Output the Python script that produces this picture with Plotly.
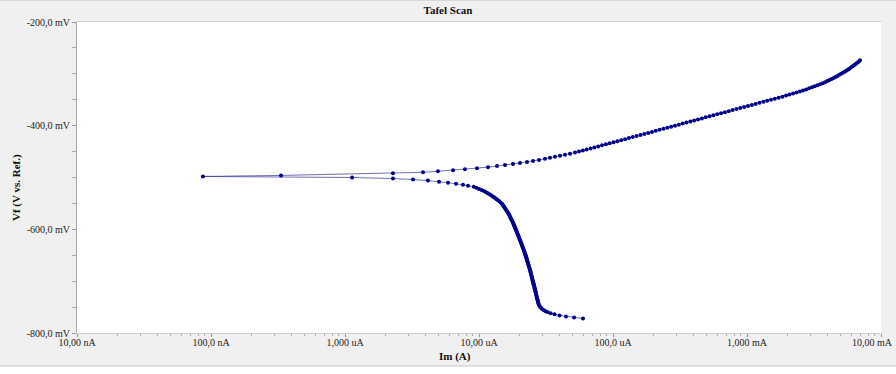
import plotly.graph_objects as go

# ---------------- data ----------------
# cathodic branch, scanned from -772 mV up towards Ecorr
cathodic_potential_mV = [
    -772, -770, -768, -766, -764, -762, -760, -758, -756, -754,
    -752, -750, -748, -746, -744, -742, -740, -738, -736, -734,
    -732, -730, -728, -726, -724, -722, -720, -718, -716, -714,
    -712, -710, -708, -706, -704, -702, -700, -698, -696, -694,
    -692, -690, -688, -686, -684, -682, -680, -678, -676, -674,
    -672, -670, -668, -666, -664, -662, -660, -658, -656, -654,
    -652, -650, -648, -646, -644, -642, -640, -638, -636, -634,
    -632, -630, -628, -626, -624, -622, -620, -618, -616, -614,
    -612, -610, -608, -606, -604, -602, -600, -598, -596, -594,
    -592, -590, -588, -586, -584, -582, -580, -578, -576, -574,
    -572, -570, -568, -566, -564, -562, -560, -558, -556, -554,
    -552, -550, -548, -546, -544, -542, -540, -538, -536, -534,
    -532, -530, -528, -526, -524, -522, -520, -518, -516, -514,
    -512, -510, -508, -506, -504, -502,
]
cathodic_current_A = [
    5.97e-5, 5.12e-5, 4.46e-5, 3.99e-5, 3.66e-5, 3.42e-5, 3.26e-5, 3.14e-5, 3.05e-5, 2.97e-5,
    2.91e-5, 2.86e-5, 2.83e-5, 2.80e-5, 2.785e-5, 2.77e-5, 2.756e-5, 2.747e-5, 2.731e-5, 2.719e-5,
    2.707e-5, 2.696e-5, 2.684e-5, 2.673e-5, 2.661e-5, 2.650e-5, 2.638e-5, 2.627e-5, 2.616e-5, 2.604e-5,
    2.594e-5, 2.582e-5, 2.570e-5, 2.559e-5, 2.547e-5, 2.535e-5, 2.524e-5, 2.512e-5, 2.501e-5, 2.489e-5,
    2.478e-5, 2.467e-5, 2.455e-5, 2.444e-5, 2.433e-5, 2.422e-5, 2.411e-5, 2.399e-5, 2.387e-5, 2.374e-5,
    2.361e-5, 2.348e-5, 2.336e-5, 2.323e-5, 2.311e-5, 2.299e-5, 2.287e-5, 2.275e-5, 2.262e-5, 2.250e-5,
    2.239e-5, 2.227e-5, 2.215e-5, 2.203e-5, 2.188e-5, 2.174e-5, 2.159e-5, 2.145e-5, 2.130e-5, 2.116e-5,
    2.102e-5, 2.088e-5, 2.074e-5, 2.061e-5, 2.046e-5, 2.033e-5, 2.019e-5, 2.004e-5, 1.991e-5, 1.976e-5,
    1.962e-5, 1.948e-5, 1.934e-5, 1.920e-5, 1.907e-5, 1.893e-5, 1.880e-5, 1.866e-5, 1.853e-5, 1.840e-5,
    1.827e-5, 1.814e-5, 1.801e-5, 1.785e-5, 1.769e-5, 1.753e-5, 1.738e-5, 1.722e-5, 1.707e-5, 1.692e-5,
    1.677e-5, 1.663e-5, 1.645e-5, 1.626e-5, 1.607e-5, 1.588e-5, 1.569e-5, 1.551e-5, 1.532e-5, 1.515e-5,
    1.497e-5, 1.480e-5, 1.449e-5, 1.417e-5, 1.385e-5, 1.354e-5, 1.324e-5, 1.294e-5, 1.261e-5, 1.224e-5,
    1.189e-5, 1.154e-5, 1.120e-5, 1.087e-5, 1.045e-5, 9.99e-6, 9.56e-6, 9.14e-6, 8.28e-6, 7.60e-6,
    6.74e-6, 5.87e-6, 5.03e-6, 4.16e-6, 3.22e-6, 2.28e-6,
]

# points around the corrosion potential
ecorr_potential_mV = [-500, -498, -496]
ecorr_current_A = [1.13e-6, 8.71e-8, 3.33e-7]

# anodic branch
anodic_potential_mV = [
    -492, -490, -488, -486, -484, -482, -480, -478, -476, -474,
    -472, -470, -468, -466, -464, -462, -460, -458, -456, -454,
    -452, -450, -448, -446, -444, -442, -440, -438, -436, -434,
    -432, -430, -428, -426, -424, -422, -420, -418, -416, -414,
    -412, -410, -408, -406, -404, -402, -400, -398, -396, -394,
    -392, -390, -388, -386, -384, -382, -380, -378, -376, -374,
    -372, -370, -368, -366, -364, -362, -360, -358, -356, -354,
    -352, -350, -348, -346, -344, -342, -340, -338, -336, -334,
    -332, -330, -328, -326, -324, -322, -320, -318, -316, -314,
    -312, -310, -308, -306, -304, -302, -300, -298, -296, -294,
    -292, -290, -288, -286, -284, -282, -280, -278, -276, -274,
]
anodic_current_A = [
    2.28e-6, 3.82e-6, 4.94e-6, 6.40e-6, 7.86e-6, 9.66e-6, 1.167e-5, 1.362e-5, 1.563e-5, 1.794e-5,
    2.023e-5, 2.282e-5, 2.529e-5, 2.804e-5, 3.108e-5, 3.388e-5, 3.692e-5, 4.023e-5, 4.384e-5, 4.778e-5,
    5.206e-5, 5.576e-5, 5.957e-5, 6.36e-5, 6.80e-5, 7.26e-5, 7.76e-5, 8.28e-5, 8.85e-5, 9.45e-5,
    1.010e-4, 1.079e-4, 1.152e-4, 1.231e-4, 1.315e-4, 1.405e-4, 1.500e-4, 1.602e-4, 1.712e-4, 1.829e-4,
    1.953e-4, 2.086e-4, 2.229e-4, 2.381e-4, 2.543e-4, 2.717e-4, 2.902e-4, 3.100e-4, 3.311e-4, 3.537e-4,
    3.779e-4, 4.036e-4, 4.311e-4, 4.606e-4, 4.920e-4, 5.255e-4, 5.614e-4, 5.997e-4, 6.406e-4, 6.843e-4,
    7.310e-4, 7.809e-4, 8.341e-4, 8.910e-4, 9.517e-4, 1.017e-3, 1.086e-3, 1.160e-3, 1.239e-3, 1.324e-3,
    1.414e-3, 1.511e-3, 1.614e-3, 1.724e-3, 1.841e-3, 1.958e-3, 2.079e-3, 2.208e-3, 2.341e-3, 2.477e-3,
    2.617e-3, 2.761e-3, 2.907e-3, 3.056e-3, 3.206e-3, 3.358e-3, 3.511e-3, 3.666e-3, 3.820e-3, 3.975e-3,
    4.128e-3, 4.279e-3, 4.429e-3, 4.579e-3, 4.732e-3, 4.884e-3, 5.037e-3, 5.191e-3, 5.346e-3, 5.500e-3,
    5.652e-3, 5.805e-3, 5.957e-3, 6.107e-3, 6.256e-3, 6.402e-3, 6.546e-3, 6.690e-3, 6.829e-3, 6.965e-3,
]

y_tick_values = [-800, -600, -400, -200]
y_tick_labels = ["-800,0 mV", "-600,0 mV", "-400,0 mV", "-200,0 mV"]
y_minor_values = [-750, -700, -650, -550, -500, -450, -350, -300, -250]

x_tick_values = [1e-8, 1e-7, 1e-6, 1e-5, 1e-4, 1e-3, 1e-2]
x_tick_labels = ["10,00 nA", "100,0 nA", "1,000 uA", "10,00 uA", "100,0 uA", "1,000 mA", "10,00 mA"]
x_minor_values = [m * d for d in [1e-8, 1e-7, 1e-6, 1e-5, 1e-4, 1e-3] for m in range(2, 10)]

# ---------------- figure ----------------
potential = cathodic_potential_mV + ecorr_potential_mV + anodic_potential_mV
current = cathodic_current_A + ecorr_current_A + anodic_current_A

SERIF = "Liberation Serif, Times New Roman, serif"
TICK_FONT = dict(family=SERIF, size=10, color="#222222")

# the last x label sits against the right edge of the window in the reference,
# so it is drawn as an annotation anchored on its right side
axis_tick_text = x_tick_labels[:-1] + [""]

fig = go.Figure()
fig.add_trace(go.Scatter(
    x=current, y=potential, mode="lines+markers",
    line=dict(color="rgba(50,50,150,0.7)", width=1),
    marker=dict(color="#00008b", size=4),
    showlegend=False, hoverinfo="skip",
))

fig.update_layout(
    width=896, height=374,
    margin=dict(l=77, r=15, t=22, b=41),
    paper_bgcolor="#f0f0f0", plot_bgcolor="white",
    font=TICK_FONT,
    title=dict(text="<b>Tafel Scan</b>", x=0.5, xanchor="center",
               y=1 - 10 / 374, yanchor="middle",
               font=dict(family=SERIF, size=11, color="#111111")),
    xaxis=dict(
        type="log", range=[-8, -2], automargin=False,
        tickvals=x_tick_values, ticktext=axis_tick_text,
        ticks="outside", ticklen=3, tickcolor="#999999",
        ticklabelstandoff=-3,
        minor=dict(tickvals=x_minor_values, ticks="outside", ticklen=2, tickcolor="#aaaaaa"),
        showgrid=False, zeroline=False,
        showline=True, linecolor="#d0d0d0", linewidth=1, mirror=True,
        tickfont=TICK_FONT,
    ),
    yaxis=dict(
        range=[-800, -200], automargin=False,
        tickvals=y_tick_values, ticktext=y_tick_labels,
        ticks="outside", ticklen=4, tickcolor="#999999",
        minor=dict(tickvals=y_minor_values, ticks="outside", ticklen=4, tickcolor="#aaaaaa"),
        showgrid=False, zeroline=False,
        showline=True, linecolor="#a8a8a8", linewidth=1,
        tickfont=TICK_FONT,
    ),
    annotations=[
        dict(text=x_tick_labels[-1], xref="paper", yref="paper",
             x=(895 - 77) / 804, y=(333 - 343) / 311, showarrow=False,
             xanchor="right", yanchor="middle", font=TICK_FONT),
        dict(text="<b>Im (A)</b>", xref="paper", yref="paper",
             x=(455 - 77) / 804, y=(333 - 356) / 311, showarrow=False,
             xanchor="center", yanchor="middle",
             font=dict(family=SERIF, size=11, color="#111111")),
        dict(text="<b>Vf (V vs. Ref.)</b>", xref="paper", yref="paper",
             x=(16 - 77) / 804, y=(333 - 188) / 311, showarrow=False,
             textangle=-90, xanchor="center", yanchor="middle",
             font=dict(family=SERIF, size=11, color="#111111")),
    ],
    shapes=[
        dict(type="rect", xref="paper", yref="paper",
             x0=-77 / 804, x1=819 / 804, y0=(333 - 366) / 311, y1=(333 - 380) / 311,
             fillcolor="white", line=dict(width=0), layer="below"),
        dict(type="line", xref="paper", yref="paper",
             x0=-77 / 804, x1=819 / 804, y0=(333 - 366) / 311, y1=(333 - 366) / 311,
             line=dict(color="#c8c8c8", width=1)),
        dict(type="line", xref="paper", yref="paper",
             x0=-77 / 804, x1=819 / 804, y0=(333 - 0.5) / 311, y1=(333 - 0.5) / 311,
             line=dict(color="#d8d8d8", width=1)),
    ],
)

fig.write_html(
    "out.html",
    config={"displayModeBar": False},
    post_script="document.body.style.margin='0';document.body.style.overflow='hidden';",
)
